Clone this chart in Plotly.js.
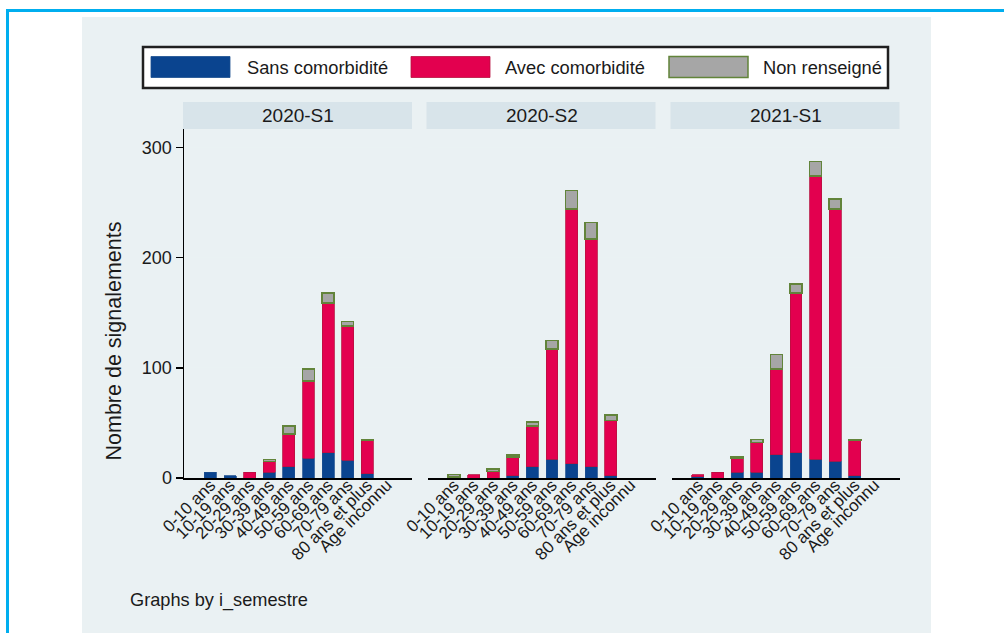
<!DOCTYPE html>
<html>
<head>
<meta charset="utf-8">
<script src="https://cdn.plot.ly/plotly-3.0.1.min.js"></script>
<style>
  html, body { margin: 0; padding: 0; background: #ffffff; }
  #chart { width: 1004px; height: 633px; }
</style>
</head>
<body>
<div id="chart"></div>
<script>
// Age groups shown on each panel's category axis
const ageGroups = ["0-10 ans", "10-19 ans", "20-29 ans", "30-39 ans", "40-49 ans",
                   "50-59 ans", "60-69 ans", "70-79 ans", "80 ans et plus", "Age inconnu"];

// Panels (one per semester)
const semesters = ["2020-S1", "2020-S2", "2021-S1"];

// Series names
const seriesNames = ["Sans comorbidité", "Avec comorbidité", "Non renseigné"];

// Counts of reports per age group, by semester
const sans_2020S1 = [5, 2, 0, 5, 10, 18, 23, 16, 4, 0];
const avec_2020S1 = [0, 0, 5, 10, 30, 70, 136, 122, 30, 0];
const nonr_2020S1 = [0, 0, 0, 2, 7, 11, 9, 4, 1, 0];

const sans_2020S2 = [1, 0, 0, 2, 10, 17, 13, 10, 2, 0];
const avec_2020S2 = [0, 3, 6, 17, 37, 100, 231, 207, 50, 0];
const nonr_2020S2 = [2, 0, 2, 2, 4, 8, 17, 15, 5, 0];

const sans_2021S1 = [1, 0, 5, 5, 21, 23, 17, 15, 2, 0];
const avec_2021S1 = [2, 5, 13, 27, 78, 145, 257, 229, 32, 0];
const nonr_2021S1 = [0, 0, 1, 3, 13, 8, 13, 9, 1, 0];

// Y axis ticks
const yTicks = [0, 100, 200, 300];

const panelSeries = [
  [sans_2020S1, avec_2020S1, nonr_2020S1],
  [sans_2020S2, avec_2020S2, nonr_2020S2],
  [sans_2021S1, avec_2021S1, nonr_2021S1]
];

// Styling
const W = 1004, H = 633;
const FONT = "Liberation Sans, Arial, Helvetica, sans-serif";
const fills = ["#0a448f", "#e3004f", "#a6a6a6"];
const edges = ["#1b4f8f", "#b8103f", "#62843a"];
const bgColor = "#eaf1f3";
const stripColor = "#d8e4ea";

// pixel -> paper helpers (figure has no margins)
const px = v => v / W;
const py = v => 1 - v / H;

const panelLeft = [184, 427.5, 671.5];
const panelWidth = 228;
const plotTop = 129, plotBottom = 478;
const yMax = (plotBottom - plotTop) / 1.102;

const traces = [];
panelSeries.forEach((series, p) => {
  const sfx = p === 0 ? "" : String(p + 1);
  series.forEach((vals, s) => {
    traces.push({
      type: "bar",
      name: seriesNames[s],
      x: ageGroups,
      y: vals.map(v => (v === 0 ? null : v)),
      xaxis: "x" + sfx,
      yaxis: "y" + sfx,
      showlegend: false,
      marker: { color: fills[s], line: { color: edges[s], width: s === 2 ? 1.5 : 0.8 } },
      hoverinfo: "skip"
    });
  });
});

const layout = {
  width: W,
  height: H,
  margin: { l: 0, r: 0, t: 0, b: 0, pad: 0 },
  paper_bgcolor: "#ffffff",
  plot_bgcolor: "#ffffff",
  barmode: "stack",
  bargap: 0.39,
  font: { family: FONT, color: "#1a1a1a" },
  showlegend: false,
  shapes: [],
  annotations: []
};

panelLeft.forEach((left, p) => {
  const sfx = p === 0 ? "" : String(p + 1);
  layout["xaxis" + sfx] = {
    domain: [px(left), px(left + panelWidth)],
    anchor: "y" + sfx,
    type: "category",
    range: [-1.35, 10.28],
    tickmode: "array",
    tickvals: ageGroups,
    ticktext: ageGroups,
    tickangle: -45,
    ticks: "",
    ticklabelstandoff: -11,
    showgrid: false,
    showline: true,
    linecolor: "#000000",
    linewidth: 1.5,
    tickfont: { family: FONT, size: 17, color: "#1a1a1a" },
    fixedrange: true
  };
  layout["yaxis" + sfx] = {
    domain: [py(plotBottom), py(plotTop)],
    anchor: "x" + sfx,
    range: [0, yMax],
    tickvals: yTicks,
    ticktext: yTicks.map(String),
    showticklabels: p === 0,
    ticks: p === 0 ? "outside" : "",
    ticklen: 7,
    tickwidth: 1.5,
    tickcolor: "#000000",
    showline: p === 0,
    linecolor: "#000000",
    linewidth: 1.5,
    showgrid: true,
    gridcolor: "#eaf2f3",
    gridwidth: 1,
    zeroline: false,
    tickfont: { family: FONT, size: 18, color: "#1a1a1a" },
    fixedrange: true
  };
  // panel strip with semester label
  layout.shapes.push({
    type: "rect", xref: "paper", yref: "paper", layer: "below",
    x0: px(left - 1), x1: px(left + panelWidth), y0: py(plotTop), y1: py(102),
    fillcolor: stripColor, line: { width: 0 }
  });
  layout.annotations.push({
    xref: "paper", yref: "paper",
    x: px(left + panelWidth / 2), y: py(115.5),
    xanchor: "center", yanchor: "middle",
    text: semesters[p], showarrow: false,
    font: { family: FONT, size: 19, color: "#1a1a1a" }
  });
});

// outer frame and graph region background (drawn first, beneath the strips)
layout.shapes.unshift(
  { type: "rect", xref: "paper", yref: "paper", layer: "below",
    x0: px(82), x1: px(931), y0: py(640), y1: py(17),
    fillcolor: bgColor, line: { width: 0 } },
  { type: "rect", xref: "paper", yref: "paper", layer: "below",
    x0: px(7.5), x1: px(1012), y0: py(645), y1: py(10.5),
    fillcolor: "rgba(0,0,0,0)", line: { color: "#00aeef", width: 3 } }
);

// legend box with swatches
layout.shapes.push({
  type: "rect", xref: "paper", yref: "paper", layer: "above",
  x0: px(143), x1: px(888), y0: py(88), y1: py(47),
  fillcolor: "#ffffff", line: { color: "#202020", width: 2.5 }
});
const swatchX = [151, 411, 669];
const labelX = [245, 503, 761];
seriesNames.forEach((name, s) => {
  layout.shapes.push({
    type: "rect", xref: "paper", yref: "paper", layer: "above",
    x0: px(swatchX[s]), x1: px(swatchX[s] + 79), y0: py(77.5), y1: py(56.5),
    fillcolor: fills[s], line: { color: edges[s], width: s === 2 ? 1.5 : 0.8 }
  });
  layout.annotations.push({
    xref: "paper", yref: "paper",
    x: px(labelX[s]), y: py(67.5),
    xanchor: "left", yanchor: "middle",
    text: name, showarrow: false,
    font: { family: FONT, size: 18.3, color: "#1a1a1a" }
  });
});

// y axis title and by-variable note
layout.annotations.push(
  { xref: "paper", yref: "paper", x: px(113), y: py(341.5),
    xanchor: "center", yanchor: "middle", textangle: -90,
    text: "Nombre de signalements", showarrow: false,
    font: { family: FONT, size: 21.5, color: "#1a1a1a" } },
  { xref: "paper", yref: "paper", x: px(128), y: py(600.5),
    xanchor: "left", yanchor: "middle",
    text: "Graphs by i_semestre", showarrow: false,
    font: { family: FONT, size: 18.2, color: "#1a1a1a" } }
);

Plotly.newPlot("chart", traces, layout, { staticPlot: true, displayModeBar: false });
</script>
</body>
</html>
